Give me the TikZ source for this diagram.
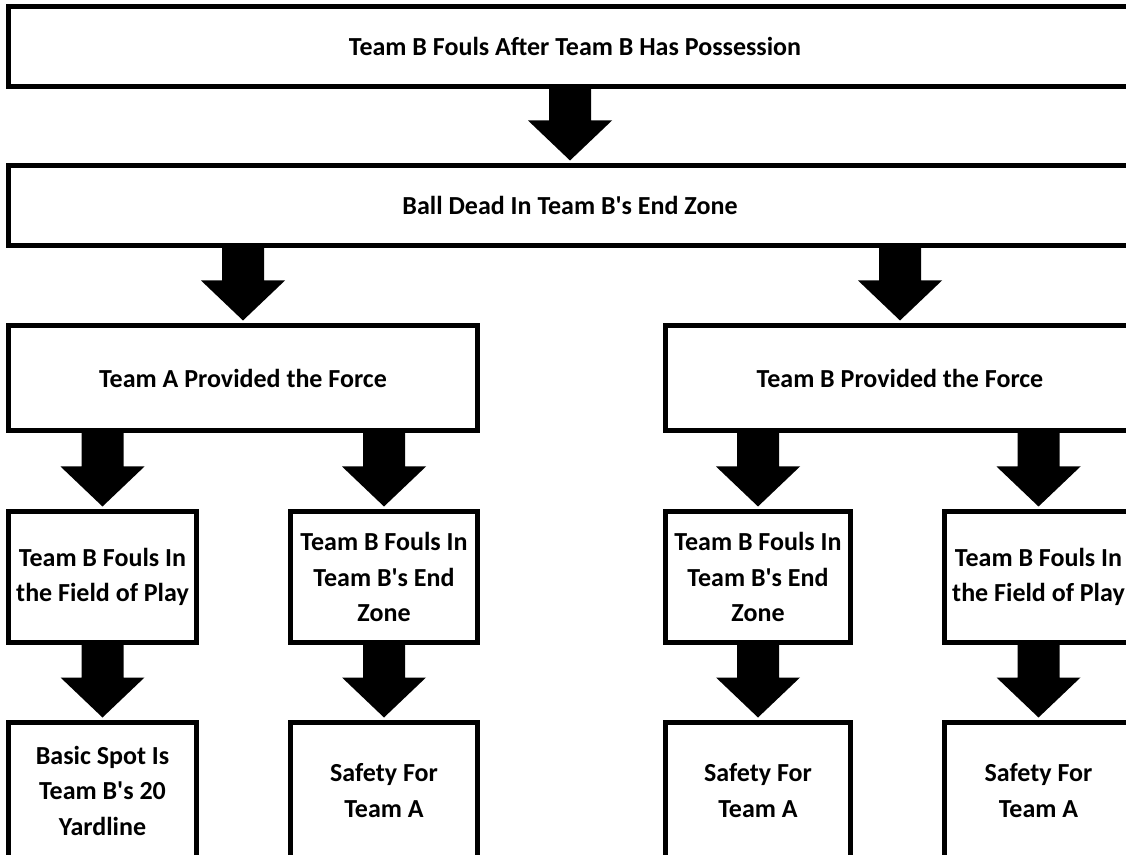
\documentclass[tikz,border=0pt]{standalone}
\usepackage{fontspec}
\setmainfont{Carlito}
\usetikzlibrary{calc}
\tikzset{
  box/.style={draw=black, line width=5pt, fill=white, rectangle, inner sep=0pt, align=center,
    font=\fontsize{26}{35.5}\selectfont\bfseries},
  wide/.style={box, minimum height=80pt},
  mid/.style={box, minimum width=469pt, minimum height=105pt},
  small/.style={box, minimum height=131pt},
  last/.style={box, minimum height=136pt},
}
\newcommand{\ap}{\textquotesingle}
\newcommand{\bigarrow}[2]{%
  \fill[black] let \p1=(#1.south), \p2=(#2.north) in
    (\x2-21pt,\y1) -- (\x2-21pt,\y2+42.5pt) -- (\x2-42pt,\y2+42.5pt) -- (\x2,\y2+2.5pt)
    -- (\x2+42pt,\y2+42.5pt) -- (\x2+21pt,\y2+42.5pt) -- (\x2+21pt,\y1) -- cycle;}
\begin{document}
\begin{tikzpicture}[x=1pt,y=1pt]
\useasboundingbox (0,0) rectangle (1126,854);
\clip (0,0) rectangle (1126,854);
\fill[white] (0,0) rectangle (1126,854);
% level 1 and 2
\node[wide, minimum width=1133pt] (top) at (575,807.5) {Team B Fouls After Team B Has Possession};
\node[wide, minimum width=1123pt] (dead) at (570,648.5) {Ball Dead In Team B\ap s End Zone};
% level 3
\node[mid] (fa) at (243,476) {Team A Provided the Force};
\node[mid] (fb) at (900,476) {Team B Provided the Force};
% level 4
\node[small, minimum width=188pt] (a1) at (102.5,277) {Team B Fouls In\\the Field of Play};
\node[small, minimum width=187pt] (a2) at (384,277) {Team B Fouls In\\Team B\ap s End\\Zone};
\node[small, minimum width=185pt] (b1) at (758,277) {Team B Fouls In\\Team B\ap s End\\Zone};
\node[small, minimum width=188pt] (b2) at (1038.5,277) {Team B Fouls In\\the Field of Play};
% level 5
\node[last, minimum width=188pt] (ra1) at (102.5,63.5) {Basic Spot Is\\Team B\ap s 20\\Yardline};
\node[last, minimum width=187pt] (ra2) at (384,63.5) {Safety For\\Team A};
\node[last, minimum width=185pt] (rb1) at (758,63.5) {Safety For\\Team A};
\node[last, minimum width=188pt] (rb2) at (1038.5,63.5) {Safety For\\Team A};
% arrows
\bigarrow{top}{dead}
\bigarrow{dead}{fa}
\bigarrow{dead}{fb}
\bigarrow{fa}{a1}
\bigarrow{fa}{a2}
\bigarrow{fb}{b1}
\bigarrow{fb}{b2}
\bigarrow{a1}{ra1}
\bigarrow{a2}{ra2}
\bigarrow{b1}{rb1}
\bigarrow{b2}{rb2}
\end{tikzpicture}
\end{document}
